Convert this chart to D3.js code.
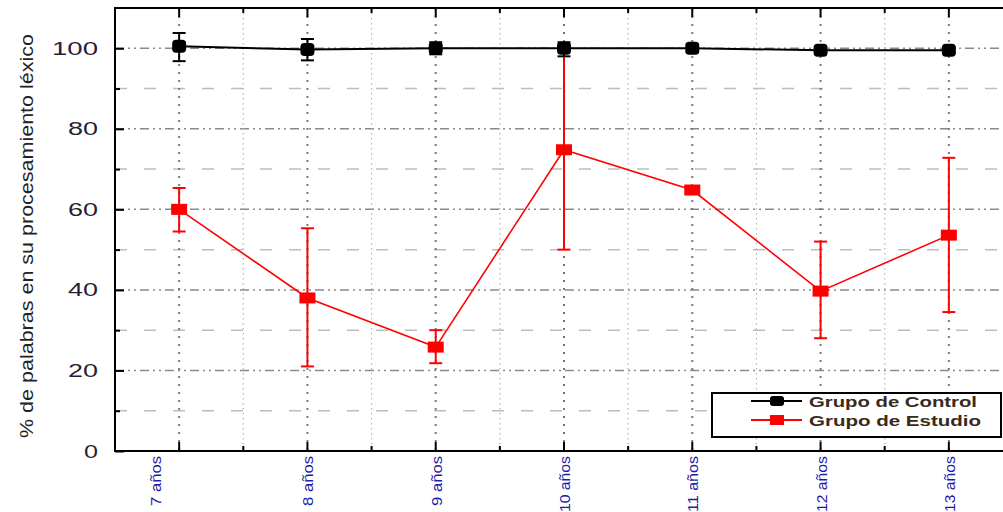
<!DOCTYPE html>
<html>
<head>
<meta charset="utf-8">
<script src="https://cdn.jsdelivr.net/npm/d3@7"></script>
<style>
  body { margin: 0; background: #fff; }
  svg { display: block; font-family: "Liberation Sans", Arial, sans-serif; }
</style>
</head>
<body>
<div id="chart"></div>
<script>
"use strict";

// data
var categories = ["7 años", "8 años", "9 años", "10 años", "11 años", "12 años", "13 años"];
var controlMean = [100.5, 99.7, 100, 100, 100, 99.5, 99.5];
var controlLow  = [96.8, 97, 98.5, 98, 99, 99, 99];
var controlHigh = [103.8, 102.3, 101.5, 101.5, 101, 100, 100];
var studyMean = [60, 38, 25.8, 74.8, 64.8, 39.7, 53.6];
var studyLow  = [54.5, 21, 21.8, 50, 64.8, 28, 34.5];
var studyHigh = [65.3, 55.3, 30, 100, 64.8, 52, 72.8];
var yTicks = [0, 20, 40, 60, 80, 100];
var yMinorTicks = [10, 30, 50, 70, 90];
var legendLabels = ["Grupo de Control", "Grupo de Estudio"];

var width = 1003, height = 512;
var plotLeft = 115, plotRight = 1013, plotTop = 8, plotBottom = 451;

var svg = d3.select("#chart").append("svg")
  .attr("width", width)
  .attr("height", height);

var x = d3.scaleBand().domain(categories).range([plotLeft, plotRight]).padding(0);
var y = d3.scaleLinear().domain([0, 110]).range([plotBottom, plotTop]);
function cx(d) { return x(d) + x.bandwidth() / 2; }
function cxi(i) { return cx(categories[i]); }

// gridlines
var grid = svg.append("g");
grid.selectAll("line.hmin").data(yMinorTicks).enter().append("line")
  .attr("x1", plotLeft).attr("x2", plotRight)
  .attr("y1", function(d) { return y(d); }).attr("y2", function(d) { return y(d); })
  .attr("stroke", "#bdbdbd").attr("stroke-width", 1.5).attr("stroke-dasharray", "12,17");
grid.selectAll("line.hmaj").data(yTicks.slice(1)).enter().append("line")
  .attr("x1", plotLeft).attr("x2", plotRight)
  .attr("y1", function(d) { return y(d); }).attr("y2", function(d) { return y(d); })
  .attr("stroke", "#8a8a8a").attr("stroke-width", 1.5).attr("stroke-dasharray", "9,4,2,4,2,4");
var minorX = categories.slice(1).map(function(d) { return x(d); });
grid.selectAll("line.vmin").data(minorX).enter().append("line")
  .attr("x1", function(d) { return d; }).attr("x2", function(d) { return d; })
  .attr("y1", plotTop).attr("y2", plotBottom)
  .attr("stroke", "#b5b5b5").attr("stroke-width", 1.2).attr("stroke-dasharray", "1.5,3.5");
grid.selectAll("line.vmaj").data(categories).enter().append("line")
  .attr("x1", cx).attr("x2", cx)
  .attr("y1", plotTop).attr("y2", plotBottom)
  .attr("stroke", "#7a7a7a").attr("stroke-width", 2).attr("stroke-dasharray", "2,6");

// frame lines
svg.append("line").attr("x1", plotLeft).attr("x2", width).attr("y1", plotTop).attr("y2", plotTop)
  .attr("stroke", "#000").attr("stroke-width", 2);
svg.append("line").attr("x1", plotLeft).attr("x2", width).attr("y1", plotBottom).attr("y2", plotBottom)
  .attr("stroke", "#000").attr("stroke-width", 2);
svg.append("line").attr("x1", plotLeft).attr("x2", plotLeft).attr("y1", plotTop - 1).attr("y2", plotBottom + 1)
  .attr("stroke", "#000").attr("stroke-width", 2);

// y axis, ticks pointing inward
var yAxis = svg.append("g").attr("transform", "translate(" + plotLeft + ",0)")
  .call(d3.axisRight(y).tickValues(yTicks).tickSize(9).tickFormat(""));
yAxis.select(".domain").remove();
yAxis.selectAll("line").attr("stroke-width", 2);
var yMinor = svg.append("g").attr("transform", "translate(" + plotLeft + ",0)")
  .call(d3.axisRight(y).tickValues(yMinorTicks).tickSize(5).tickFormat(""));
yMinor.select(".domain").remove();
yMinor.selectAll("line").attr("stroke-width", 2);

svg.append("g").selectAll("text").data(yTicks).enter().append("text")
  .attr("x", 98).attr("y", function(d) { return y(d) + 6.5; })
  .attr("text-anchor", "end")
  .attr("font-size", 18)
  .attr("textLength", function(d) { return String(d).length * 16 - 2; })
  .attr("lengthAdjust", "spacingAndGlyphs")
  .attr("fill", "#2b1d35")
  .text(function(d) { return d; });

// x ticks bottom and top
function xTicks(yPos, dir) {
  var g = svg.append("g");
  g.selectAll("line.maj").data(categories).enter().append("line")
    .attr("x1", cx).attr("x2", cx)
    .attr("y1", yPos).attr("y2", yPos + dir * 9)
    .attr("stroke", "#000").attr("stroke-width", 2);
  g.selectAll("line.min").data(minorX).enter().append("line")
    .attr("x1", function(d) { return d; }).attr("x2", function(d) { return d; })
    .attr("y1", yPos).attr("y2", yPos + dir * 5)
    .attr("stroke", "#000").attr("stroke-width", 2);
}
xTicks(plotBottom, -1);
xTicks(plotTop, 1);

svg.append("g").selectAll("text").data(categories).enter().append("text")
  .attr("transform", function(d, i) {
    var tx = cx(d) + 6 - (i === 0 ? 24 : 0);
    return "translate(" + tx + "," + (plotBottom + 5) + ") rotate(-90)";
  })
  .attr("text-anchor", "end")
  .attr("font-size", 15)
  .attr("textLength", function(d) { return d.length > 6 ? 56 : 50; })
  .attr("lengthAdjust", "spacingAndGlyphs")
  .attr("fill", "#1c1ca8")
  .text(function(d) { return d; });

// y axis title
svg.append("text")
  .attr("transform", "translate(33,236) rotate(-90)")
  .attr("text-anchor", "middle")
  .attr("font-size", 19)
  .attr("textLength", 404)
  .attr("lengthAdjust", "spacingAndGlyphs")
  .attr("fill", "#222")
  .text("% de palabras en su procesamiento léxico");

// series
function drawSeries(mean, low, high, color, rounded) {
  var g = svg.append("g");
  var line = d3.line()
    .x(function(d, i) { return cxi(i); })
    .y(function(d) { return y(d); });
  g.append("path").datum(mean)
    .attr("d", line)
    .attr("fill", "none").attr("stroke", color).attr("stroke-width", rounded ? 2 : 1.6);

  var idx = d3.range(mean.length).filter(function(i) { return high[i] - low[i] > 0.5; });
  g.selectAll("line.err").data(idx).enter().append("line")
    .attr("x1", cxi).attr("x2", cxi)
    .attr("y1", function(i) { return y(low[i]); })
    .attr("y2", function(i) { return y(high[i]); })
    .attr("stroke", color).attr("stroke-width", 2);
  [low, high].forEach(function(arr) {
    g.selectAll(null).data(idx).enter().append("line")
      .attr("x1", function(i) { return cxi(i) - 6.5; })
      .attr("x2", function(i) { return cxi(i) + 6.5; })
      .attr("y1", function(i) { return y(arr[i]); })
      .attr("y2", function(i) { return y(arr[i]); })
      .attr("stroke", color).attr("stroke-width", 2);
  });
  var mw = rounded ? 14 : 16, mh = rounded ? 13 : 11;
  g.selectAll("rect.m").data(mean).enter().append("rect")
    .attr("x", function(d, i) { return cxi(i) - mw / 2; })
    .attr("y", function(d) { return y(d) - mh / 2; })
    .attr("width", mw).attr("height", mh).attr("rx", rounded ? 4 : 0)
    .attr("fill", color);
}
drawSeries(studyMean, studyLow, studyHigh, "#ff0000", false);
drawSeries(controlMean, controlLow, controlHigh, "#000", true);

// legend
var legend = svg.append("g").attr("transform", "translate(712,393)");
legend.append("rect").attr("width", 289).attr("height", 44)
  .attr("fill", "#fff").attr("stroke", "#000").attr("stroke-width", 2);
var legendColors = ["#000", "#ff0000"];
legendLabels.forEach(function(label, i) {
  var ly = 8 + i * 19;
  legend.append("line").attr("x1", 39).attr("x2", 90).attr("y1", ly).attr("y2", ly)
    .attr("stroke", legendColors[i]).attr("stroke-width", 2);
  legend.append("rect").attr("x", 58).attr("y", ly - 5).attr("width", 14).attr("height", 10)
    .attr("rx", i === 0 ? 3 : 0).attr("fill", legendColors[i]);
  legend.append("text").attr("x", 97).attr("y", ly + 5.5)
    .attr("font-size", 15)
    .attr("font-weight", "bold")
    .attr("textLength", i === 0 ? 168 : 172)
    .attr("lengthAdjust", "spacingAndGlyphs")
    .attr("fill", "#3a2a1a")
    .text(label);
});
</script>
</body>
</html>
